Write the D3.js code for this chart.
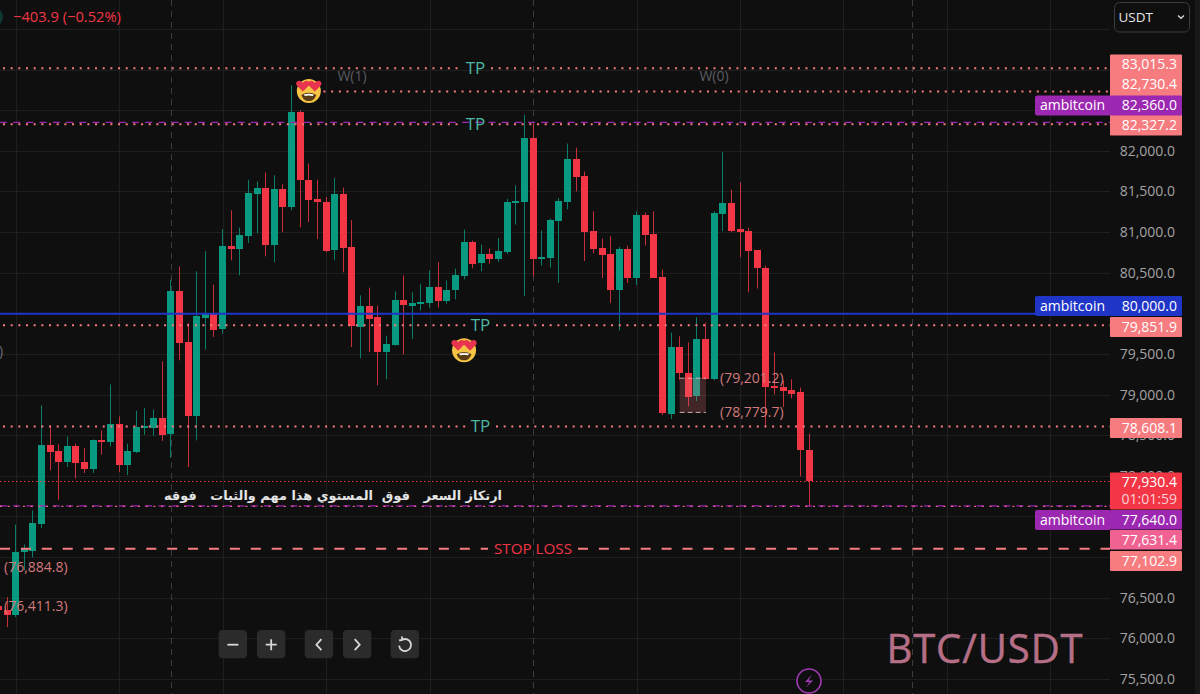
<!DOCTYPE html>
<html>
<head>
<meta charset="utf-8">
<script src="https://cdn.jsdelivr.net/npm/d3@7"></script>
<style>
    html, body { margin: 0; padding: 0; background: #0f0f0f; overflow: hidden; }
    text { font-family: "Open Sans", sans-serif; }
</style>
</head>
<body>
<div id="chart"></div>
<script>
// open, high, low, close, first row is the sliver cut off at the left edge
var candles = [
[76393,76400,76340,76344],
[76344,76507,76138,76278],[76278,77399,76261,77058],[77058,77156,76836,77098],[77074,77575,76996,77415],
[77406,78867,77357,78375],[78375,78621,78067,78292],[78305,78387,77706,78166],[78166,78485,78108,78362],
[78362,78396,77965,78153],[78166,78341,78034,78083],[78083,78448,78034,78436],[78436,78559,78260,78420],
[78411,79125,78362,78633],[78633,78731,78045,78128],[78128,78396,78009,78305],[78292,78802,78280,78596],
[78596,78834,78506,78608],[78596,78814,78494,78716],[78716,79409,78428,78506],[78506,80415,78223,80270],
[80270,80578,79421,79634],[79642,79880,78108,78731],[78731,80517,78436,79963],[79950,80763,79553,79996],
[79996,80353,79708,79803],[79803,81034,79750,80824],[80824,81268,80652,80787],[80787,81055,80467,80960],
[80948,81645,80865,81477],[81465,81621,80981,81538],[81538,81735,80701,80833],[80833,81698,80631,81526],
[81526,81588,80997,81304],[81304,82806,81268,82474],[82474,82499,81058,81637],[81645,81842,81123,81399],
[81407,81645,80914,81366],[81375,81431,80750,80775],[80775,81665,80652,81465],[81465,81547,80504,80800],
[80812,81148,79585,79840],[79840,80221,79449,80094],[80094,80316,79523,79938],[79950,80094,79113,79519],
[79519,79725,79187,79622],[79610,80267,79602,80160],[80160,80467,79495,80094],[80094,80258,79683,80127],
[80130,80365,80036,80144],[80130,80529,80070,80328],[80328,80631,80070,80151],[80151,80406,80119,80291],
[80283,80550,80172,80467],[80459,81030,80418,80877],[80877,80895,80554,80612],[80612,80845,80517,80726],
[80726,80796,80612,80668],[80668,80927,80631,80771],[80763,81407,80730,81375],[81366,81575,81091,81387],
[81375,82441,80213,82162],[82162,82335,80455,80668],[80668,81021,80587,80689],[80680,81165,80562,81153],
[81141,81419,80373,81387],[81375,82089,81280,81904],[81904,82039,81501,81678],[81690,81744,80643,81001],
[81009,81255,80738,80787],[80800,80919,80434,80717],[80726,80948,80127,80283],[80283,80816,79790,80787],
[80787,80833,80373,80434],[80434,81255,80348,81206],[81206,81239,80833,80960],[80972,81255,80434,80434],
[80443,80538,78748,78765],[78765,79762,78699,79585],[79585,79717,79184,79261],[79270,79642,78855,78978],
[78978,79950,78920,79680],[79680,79885,79187,79187],[79187,81255,79175,81231],[81222,81982,81009,81362],
[81362,81522,80997,81021],[81034,81612,80689,81001],[81009,81055,80258,80763],[80775,80775,80304,80554],
[80562,80587,78600,79097],[79105,79519,79002,79085],[79092,79175,78846,79048],[79060,79187,78953,79011],
[79027,79085,77993,78310],[78317,78519,77620,77930]
];
var priceTicks = d3.range(75500, 84000, 500);
// the other tick labels sit fully under the price tags
var axisLabels = [82000, 81500, 81000, 80500, 79500, 79000, 78500, 78000, 76500, 76000, 75500];
var gridBars = [1, 13, 25, 37, 49, 73, 85, 97, 109, 121];
var sessionBars = [19, 61, 105];

var dottedLevels = [83015.3, 82730.4, 82327.2, 79851.9, 78608.1];
var stopLevel = 77102.9;
var alertLevels = [82360.0, 77640.0];
var supportLevel = 80000.0;
var lastPrice = 77930.4;
var pinkLevel = 77631.4;
var countdown = "01:01:59";
var changeText = "\u2212403.9 (\u22120.52%)";
var alertName = "ambitcoin";
var arabicNote = "ارتكاز السعر   فوق  المستوي هذا مهم والثبات   فوقه";
var symbolName = "BTC/USDT";
var rangeTop = 79201.2, rangeBottom = 78779.7;
var lowNotes = [76884.8, 76411.3];

var W = 1200, H = 694, paneRight = 1110;
var bg = "#0f0f0f", up = "#089981", down = "#f23645", salmon = "#f77c80", purple = "#9c27b0", blue = "#1e35c8", pink = "#f06292", noteCol = "#d27a7c", tealText = "#4db6a4";

var svg = d3.select("#chart").append("svg")
    .attr("width", W).attr("height", H)
    .style("display", "block");

svg.append("rect").attr("width", W).attr("height", H).attr("fill", bg);

var x = d3.scaleLinear().domain([0, 93]).range([7, 809]);
var y = d3.scaleLinear().domain([76000, 82000]).range([638.3, 150.8]);
var fmt = d3.format(",.1f");
var crisp = function(v) { return Math.round(v) + 0.5; };

// grid
svg.selectAll(".hgrid").data(priceTicks).enter().append("line")
    .attr("x1", 0).attr("x2", paneRight)
    .attr("y1", function(d) { return crisp(y(d)); })
    .attr("y2", function(d) { return crisp(y(d)); })
    .attr("stroke", "#1f1f1f");
svg.selectAll(".vgrid").data(gridBars).enter().append("line")
    .attr("y1", 0).attr("y2", H)
    .attr("x1", function(d) { return crisp(x(d)); })
    .attr("x2", function(d) { return crisp(x(d)); })
    .attr("stroke", "#1f1f1f");
svg.selectAll(".session").data(sessionBars).enter().append("line")
    .attr("y1", 0).attr("y2", H)
    .attr("x1", function(d) { return crisp(x(d)); })
    .attr("x2", function(d) { return crisp(x(d)); })
    .attr("stroke", "#3b3d42")
    .attr("stroke-dasharray", "6 5");

// candles
var bar = svg.selectAll(".candle").data(candles).enter().append("g");
var colorOf = function(d) { return d[3] >= d[0] ? up : down; };
bar.append("line")
    .attr("x1", function(d, i) { return crisp(x(i - 1) - 0.5); })
    .attr("x2", function(d, i) { return crisp(x(i - 1) - 0.5); })
    .attr("y1", function(d) { return y(d[1]); })
    .attr("y2", function(d) { return y(d[2]); })
    .attr("stroke", colorOf)
    .attr("stroke-opacity", 0.8);
bar.append("rect")
    .attr("x", function(d, i) { return Math.round(x(i - 1) - 0.5) - 3; })
    .attr("width", 7)
    .attr("y", function(d) { return Math.round(y(Math.max(d[0], d[3]))); })
    .attr("height", function(d) { return Math.max(2, Math.round(Math.abs(y(d[0]) - y(d[3])))); })
    .attr("fill", colorOf);

// long position box over the candles
svg.append("rect")
    .attr("x", x(78)).attr("width", x(81.05) - x(78))
    .attr("y", y(rangeTop)).attr("height", y(rangeBottom) - y(rangeTop))
    .attr("fill", salmon).attr("fill-opacity", 0.22);
[rangeTop, rangeBottom].forEach(function(v) {
    svg.append("line")
        .attr("x1", x(78)).attr("x2", x(81.05))
        .attr("y1", y(v)).attr("y2", y(v))
        .attr("stroke", "#e8c8c8").attr("stroke-dasharray", "5 3").attr("stroke-opacity", 0.8);
});

// horizontal levels
var startOf = {82730.4: x(36.7)};
var gapOf = {83015.3: [461, 491], 82327.2: [461, 491], 79851.9: [466, 496], 78608.1: [466, 496]};
dottedLevels.forEach(function(v) {
    let from = startOf[v] || 3;
    let gap = gapOf[v];
    let segs = gap ? [[from, gap[0]], [gap[1], paneRight]] : [[from, paneRight]];
    segs.forEach(function(s) {
        svg.append("line")
            .attr("x1", s[0]).attr("x2", s[1])
            .attr("y1", y(v)).attr("y2", y(v))
            .attr("stroke", salmon).attr("stroke-width", 2)
            .attr("stroke-dasharray", "2 5.67");
    });
});
alertLevels.forEach(function(v) {
    svg.append("line")
        .attr("x1", 0).attr("x2", paneRight)
        .attr("y1", y(v) + 0.8).attr("y2", y(v) + 0.8)
        .attr("stroke", purple).attr("stroke-width", 1.4)
        .attr("stroke-dasharray", "7 6.2");
});
svg.append("line")
    .attr("x1", 0).attr("x2", paneRight)
    .attr("y1", y(pinkLevel) + 0.6).attr("y2", y(pinkLevel) + 0.6)
    .attr("stroke", pink).attr("stroke-width", 1.4)
    .attr("stroke-dasharray", "2 5.67");
svg.append("line")
    .attr("x1", 0).attr("x2", paneRight)
    .attr("y1", y(supportLevel) + 0.5).attr("y2", y(supportLevel) + 0.5)
    .attr("stroke", blue).attr("stroke-width", 2);
svg.append("line")
    .attr("x1", 0).attr("x2", paneRight)
    .attr("y1", crisp(y(lastPrice))).attr("y2", crisp(y(lastPrice)))
    .attr("stroke", down)
    .attr("stroke-dasharray", "1.5 2.5");
[[0, 488], [578, paneRight]].forEach(function(s) {
    svg.append("line")
        .attr("x1", s[0]).attr("x2", s[1])
        .attr("y1", y(stopLevel)).attr("y2", y(stopLevel))
        .attr("stroke", salmon).attr("stroke-width", 2)
        .attr("stroke-dasharray", "10 10.9");
});

// chart labels
var label = function(tx, ty, str, size, color, anchor) {
    return svg.append("text")
        .attr("x", tx).attr("y", ty)
        .attr("dy", "0.35em")
        .attr("text-anchor", anchor || "middle")
        .attr("font-size", size)
        .attr("fill", color)
        .text(str);
};
label(475.5, y(dottedLevels[0]), "TP", 17, tealText);
label(475.5, y(dottedLevels[2]), "TP", 17, tealText);
label(480.5, y(dottedLevels[3]), "TP", 17, tealText);
label(480.5, y(dottedLevels[4]), "TP", 17, tealText);
label(352, 76, "W(1)", 14, "#5a5c63");
label(714, 76, "W(0)", 14, "#5a5c63");
label(533, y(stopLevel), "STOP LOSS", 15.2, down);
label(720, y(rangeTop), "(" + fmt(rangeTop) + ")", 14, noteCol, "start");
label(720, y(rangeBottom), "(" + fmt(rangeBottom) + ")", 14, noteCol, "start");
label(4, y(lowNotes[0]) + 1, "(" + fmt(lowNotes[0]) + ")", 14, noteCol, "start");
label(4, y(lowNotes[1]) + 1, "(" + fmt(lowNotes[1]) + ")", 14, noteCol, "start");
label(-1, 351, ")", 14, "#6a6d74", "start");
label(333, 495, arabicNote, 12.9, "#e4e4e4")
    .attr("font-weight", "bold")
    .style("font-family", "'DejaVu Sans'")
    .style("white-space", "pre")
    .attr("direction", "rtl")
    .attr("xml:space", "preserve");
label(13, 17, changeText, 14.7, down, "start");
label(985, 649, symbolName, 40, "#b56f86").style("letter-spacing", "0.9px").attr("stroke", "#b56f86").attr("stroke-width", 0.5);

// heart eye emoji, shapes because no colour emoji font is installed
var heartEyes = function(i, price) {
    let g = svg.append("g").attr("transform", `translate(${x(i)}, ${y(price)})`);
    g.append("circle").attr("r", 12).attr("fill", "#f6c445");
    g.append("path").attr("d", "M-7.5 6 Q0 1.5 7.5 6 Q5 12.5 0 12 Q-5 12.5 -7.5 6Z").attr("transform", "translate(0,-2)").attr("fill", "#5a3d14");
    g.append("path").attr("d", "M-5 3.3 Q0 2 5 3.3 L4 5 Q0 4 -4 5Z").attr("fill", "#fff");
    [-6, 6].forEach(function(dx) {
        g.append("path")
            .attr("d", "M0 5 L-6 -1 C-8.5 -5 -3 -8 0 -3.5 C3 -8 8.5 -5 6 -1Z")
            .attr("transform", `translate(${dx}, -4.5)`)
            .attr("fill", "#e8344e");
    });
};
heartEyes(35, 82735);
heartEyes(53, 79545);

// price axis
svg.append("rect").attr("x", paneRight).attr("y", 0).attr("width", W - paneRight).attr("height", H).attr("fill", bg);
svg.append("rect").attr("x", 1195).attr("y", 0).attr("width", 5).attr("height", H).attr("fill", "#191919");
var axis = svg.append("g")
    .attr("transform", "translate(1175, 0)")
    .call(d3.axisRight(y).tickValues(axisLabels).tickSize(0).tickPadding(0).tickFormat(fmt));
axis.select(".domain").remove();
axis.selectAll("text")
    .attr("text-anchor", "end")
    .style("font-size", "14px")
    .style("font-family", "'Open Sans', sans-serif")
    .attr("fill", "#a3a3a3");

// price tags on the axis, pushed apart like the platform stacks them
var tag = function(top, height, color, str) {
    svg.append("rect")
        .attr("x", paneRight).attr("y", top).attr("width", 72).attr("height", height)
        .attr("rx", 1).attr("fill", color);
    if (str) label(1177, top + 10, str, 14, "#ffffff", "end");
};
var nameTag = function(top, color) {
    svg.append("path")
        .attr("d", `M${paneRight} ${top}H1037a2 2 0 0 0 -2 2V${top + 18}a2 2 0 0 0 2 2H${paneRight}Z`)
        .attr("fill", color);
    label(1072.5, top + 10, alertName, 14, "#ffffff");
};
tag(54.5, 81, salmon);
label(1177, 64.5, fmt(dottedLevels[0]), 14, "#fff", "end");
label(1177, 84.5, fmt(dottedLevels[1]), 14, "#fff", "end");
tag(95.5, 20, purple, fmt(alertLevels[0]));
label(1177, 125.5, fmt(dottedLevels[2]), 14, "#fff", "end");
nameTag(95.5, purple);
tag(296, 20, blue, fmt(supportLevel));
nameTag(296, blue);
tag(317, 20, salmon, fmt(dottedLevels[3]));
tag(418, 20, salmon, fmt(dottedLevels[4]));
tag(472.5, 37, down);
label(1177, 482.5, fmt(lastPrice), 14, "#fff", "end");
label(1177, 499, countdown, 14, "#fbd0d4", "end");
tag(510, 19.5, purple, fmt(alertLevels[1]));
nameTag(510, purple);
tag(530, 19.5, pink, fmt(pinkLevel));
tag(551, 20, salmon, fmt(stopLevel));

// currency selector
svg.append("rect")
    .attr("x", 1114.5).attr("y", 2.5).attr("width", 75).attr("height", 29.5).attr("rx", 5)
    .attr("fill", "none").attr("stroke", "#3c3c3c");
label(1118.5, 17.5, "USDT", 13.5, "#e6e6e6", "start");
svg.append("path").attr("d", "M1178 15.5l3 2.7 3-2.7").attr("fill", "none").attr("stroke", "#d6d6d6").attr("stroke-width", 1.4);

// zoom and scroll buttons
var buttons = [218.7, 257, 304.7, 343, 390.7];
var icons = [
    "M-5.5 0H5.5",
    "M-5.5 0H5.5M0 -5.5V5.5",
    "M2.5 -5.5L-2.5 0L2.5 5.5",
    "M-2.5 -5.5L2.5 0L-2.5 5.5",
    "M-2.6 -5A6 6 0 1 1 -5.8 1M-3.2 -8.2L-2.4 -4.8L-5.8 -4.2"
];
svg.selectAll(".btn").data(buttons).enter().append("rect")
    .attr("x", function(d) { return d; })
    .attr("y", 630).attr("width", 28.3).attr("height", 28.3).attr("rx", 4)
    .attr("fill", "#2b2b2b");
svg.selectAll(".ico").data(buttons).enter().append("path")
    .attr("transform", function(d) { return `translate(${d + 14.2}, 644.7)`; })
    .attr("d", function(d, i) { return icons[i]; })
    .attr("fill", "none").attr("stroke", "#d8d8d8").attr("stroke-width", 1.8);

// lightning badge and clipped logo top left
svg.append("circle").attr("cx", 809).attr("cy", 681).attr("r", 12).attr("fill", bg).attr("stroke", "#a23bb5").attr("stroke-width", 1.6);
svg.append("path").attr("d", "M812 674.5L805 682H809.5L806 687.5L813 680.5H808.5Z").attr("fill", "#a23bb5");
svg.append("circle").attr("cx", -7).attr("cy", 17).attr("r", 10).attr("fill", "#0f3a34");
</script>
</body>
</html>
